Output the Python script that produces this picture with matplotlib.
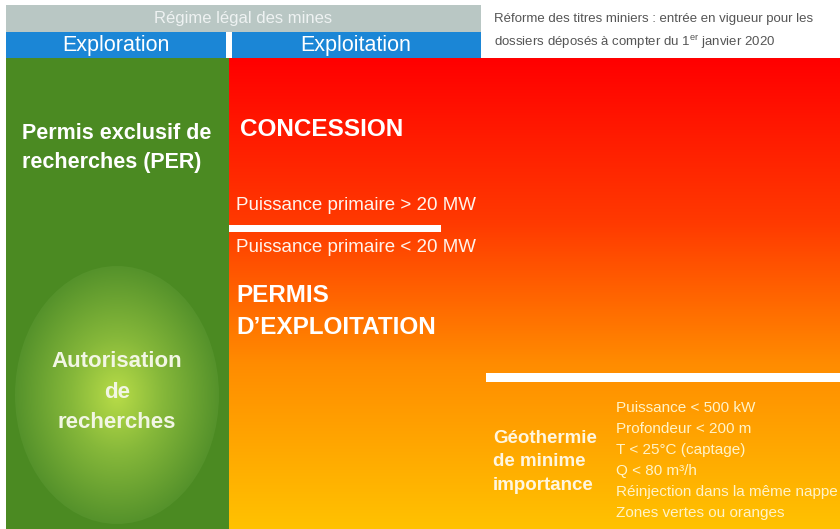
import numpy as np
import matplotlib.pyplot as plt
from matplotlib.patches import Rectangle, Ellipse
from matplotlib.colors import LinearSegmentedColormap

plt.rcParams['font.family'] = ['Liberation Sans', 'DejaVu Sans']
plt.rcParams['mathtext.fontset'] = 'custom'
plt.rcParams['mathtext.rm'] = 'Liberation Sans'

# texts of the diagram
header_title = "Régime légal des mines"
phases = ["Exploration", "Exploitation"]
reform_note = ["Réforme des titres miniers : entrée en vigueur pour les",
               "dossiers déposés à compter du 1$^{\\mathrm{er}}$ janvier 2020"]
per_label = "Permis exclusif de\nrecherches (PER)"
ar_label = "Autorisation\nde\nrecherches"
concession_label = "CONCESSION"
power_labels = ["Puissance primaire > 20 MW", "Puissance primaire < 20 MW"]
pe_label = "PERMIS\nD\u2019EXPLOITATION"
gmi_label = "Géothermie\nde minime\nimportance"
gmi_criteria = ["Puissance < 500 kW",
                "Profondeur < 200 m",
                "T < 25°C (captage)",
                "Q < 80 m³/h",
                "Réinjection dans la même nappe",
                "Zones vertes ou oranges"]

W, H = 840, 529
fig = plt.figure(figsize=(8.4, 5.29), dpi=100)
ax = fig.add_axes([0, 0, 1, 1])
ax.set_xlim(0, W)
ax.set_ylim(H, 0)
ax.axis('off')

# header bands
ax.add_patch(Rectangle((6, 5), 475, 27, color='#b9c7c4', lw=0))
ax.add_patch(Rectangle((6, 32), 475, 26, color='#1b86d6', lw=0))
ax.add_patch(Rectangle((226, 32), 6, 26, color='white', lw=0))

# green exploration column
green = '#4b8a22'
ax.add_patch(Rectangle((6, 58), 223, H - 58, color=green, lw=0))

# red -> orange -> yellow gradient for exploitation
grad_cmap = LinearSegmentedColormap.from_list(
    'expl', [(0, '#ff0000'), (0.35, '#ff3a00'), (0.65, '#ff8c00'), (1, '#ffc200')])
g = np.linspace(0, 1, 256).reshape(-1, 1)
ax.imshow(g, cmap=grad_cmap, extent=(229, W, H, 58), aspect='auto', zorder=1)

# radial glow ellipse
cx, cy, ew, eh = 117, 395, 204, 258
ell = Ellipse((cx, cy), ew, eh, facecolor='none', edgecolor='none')
ax.add_patch(ell)
xx, yy = np.meshgrid(np.linspace(-1, 1, 300), np.linspace(-1, 1, 300))
r = np.sqrt(xx ** 2 + yy ** 2)
glow_cmap = LinearSegmentedColormap.from_list(
    'glow', [(0, '#b8dc48'), (0.45, '#86b83a'), (1, '#55922b')])
im = ax.imshow(np.clip(r, 0, 1), cmap=glow_cmap, vmin=0, vmax=1,
               extent=(cx - ew / 2, cx + ew / 2, cy + eh / 2, cy - eh / 2),
               aspect='auto', zorder=2)
im.set_clip_path(ell)

# white separators
ax.add_patch(Rectangle((229, 225), 212, 7, color='white', lw=0, zorder=3))
ax.add_patch(Rectangle((486, 373), W - 486, 9, color='white', lw=0, zorder=3))

# header texts
ax.text(243, 19, header_title, color='#eef2f2', fontsize=12, ha='center', va='center')
ax.text(116, 45, phases[0], color='white', fontsize=15.5, ha='center', va='center')
ax.text(356, 45, phases[1], color='white', fontsize=15.5, ha='center', va='center')
ax.text(494, 19, reform_note[0], color='#555555', fontsize=9.5, va='center')
ax.text(494, 42, reform_note[1], color='#555555', fontsize=9.5, va='center')

# exploration column texts
ax.text(22, 148, per_label, color='white', fontsize=15.5, fontweight='bold',
        va='center', linespacing=1.55, zorder=4)
ax.text(117, 392, ar_label, color='#f2f6e4', fontsize=16, fontweight='bold',
        ha='center', va='center', linespacing=1.6, zorder=4)

# exploitation texts
ax.text(240, 130, concession_label, color='white', fontsize=17.5, fontweight='bold',
        va='center', zorder=4)
ax.text(236, 205, power_labels[0], color='#fff4ec', fontsize=13.5, va='center', zorder=4)
ax.text(236, 247, power_labels[1], color='#fff4ec', fontsize=13.5, va='center', zorder=4)
ax.text(236, 312, pe_label, color='white', fontsize=17.5, fontweight='bold',
        va='center', linespacing=1.5, zorder=4)

ax.text(493, 462, gmi_label, color='#fff6e0', fontsize=13.5, fontweight='bold',
        va='center', linespacing=1.5, zorder=4)
for i, item in enumerate(gmi_criteria):
    ax.text(616, 408 + 21 * i, item, color='#fff3c8', fontsize=11, va='center', zorder=4)

fig.savefig('out.png', dpi=100)
